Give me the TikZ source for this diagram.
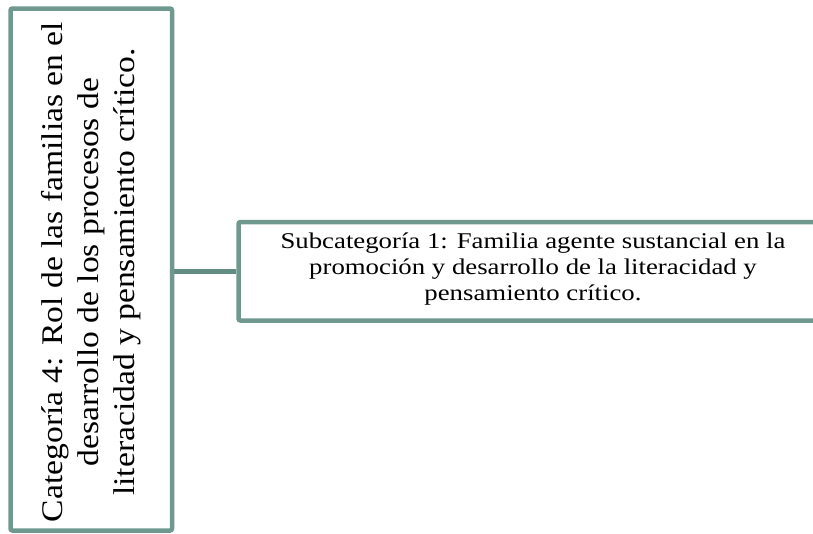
\documentclass[tikz,border=0pt]{standalone}
\usepackage{fontspec}
\setmainfont{Liberation Serif}
\definecolor{framegreen}{HTML}{6F998E}
\definecolor{linkgreen}{HTML}{628D82}
\begin{document}
\begin{tikzpicture}[x=1pt,y=-1pt,
  box/.style={draw=framegreen, line width=4.5pt, rounded corners=2pt, fill=white, inner sep=0pt},
  link/.style={draw=linkgreen, line width=4.5pt}]
\useasboundingbox (0,0) rectangle (813,533);
\clip (0,0) rectangle (813,533);
% category box (tall) and its rotated title
\node[box, minimum width=161.5pt, minimum height=522pt] (cat) at (91.25,269.5) {};
\node[rotate=90, inner sep=0pt, font=\fontsize{30}{36}\selectfont] (cattext) at ([yshift=-2.5pt]cat.center)
  {\scalebox{1.12}[1]{\begin{tabular}{@{}c@{}}Categoría 4: Rol de las familias en el\\ desarrollo de los procesos de\\ literacidad y pensamiento crítico.\end{tabular}}};
% subcategory box
\node[box, minimum width=589pt, minimum height=98.5pt] (sub) at (533,271.25) {};
\node[inner sep=0pt, font=\fontsize{22.5}{26}\selectfont] (subtext) at ([yshift=1.5pt]sub.center)
  {\scalebox{1.19}[1]{\begin{tabular}{@{}c@{}}Subcategoría 1: Familia agente sustancial en la\\ promoción y desarrollo de la literacidad y\\ pensamiento crítico.\end{tabular}}};
% connector
\draw[link] (cat.east |- sub.west) -- (sub.west);
\end{tikzpicture}
\end{document}
